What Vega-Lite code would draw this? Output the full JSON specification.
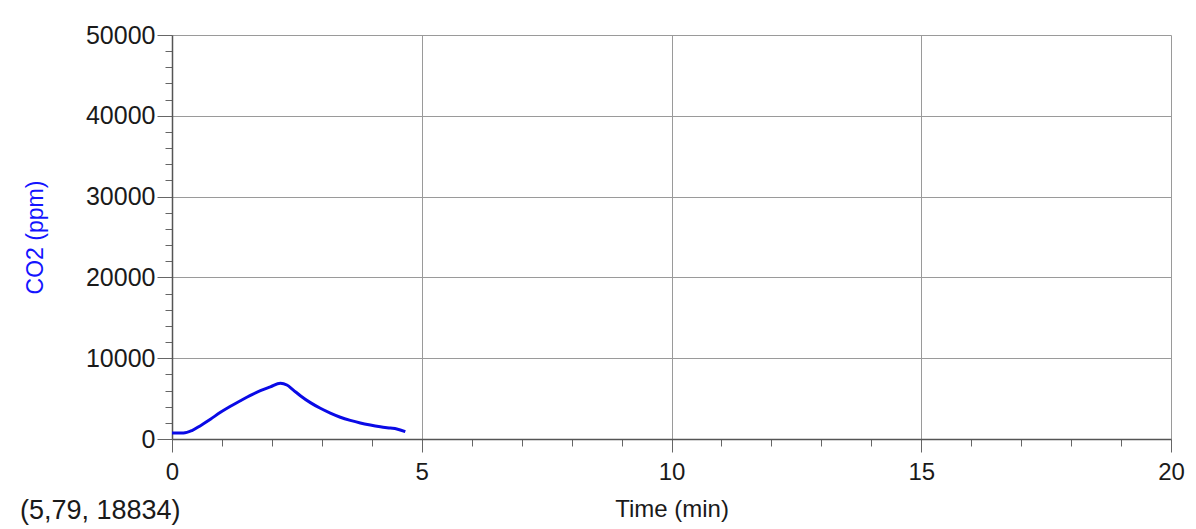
{
  "$schema": "https://vega.github.io/schema/vega-lite/v6.json",
  "width": 999,
  "height": 404,
  "autosize": {"type": "none"},
  "padding": {"left": 172, "top": 35, "right": 25, "bottom": 90},
  "background": "white",
  "title": {
    "text": "(5,79, 18834)",
    "orient": "bottom",
    "anchor": "start",
    "frame": "group",
    "dx": -152,
    "offset": -23,
    "baseline": "top",
    "font": "Liberation Sans",
    "fontSize": 27,
    "fontWeight": "normal",
    "color": "#1a1a1a"
  },
  "config": {
    "view": {"stroke": null},
    "axis": {
      "labelFont": "Liberation Sans",
      "titleFont": "Liberation Sans",
      "labelColor": "#1a1a1a",
      "titleFontWeight": "normal",
      "domainColor": "#555555",
      "tickColor": "#666666",
      "gridColor": "#9a9a9a",
      "domainWidth": 1.5
    }
  },
  "data": {
    "values": [
      {"t": 0.0, "co2": 740},
      {"t": 0.23, "co2": 740},
      {"t": 0.4, "co2": 1050},
      {"t": 0.57, "co2": 1650},
      {"t": 0.77, "co2": 2450},
      {"t": 0.97, "co2": 3300},
      {"t": 1.17, "co2": 4050},
      {"t": 1.37, "co2": 4740},
      {"t": 1.57, "co2": 5400},
      {"t": 1.77, "co2": 5980},
      {"t": 1.97, "co2": 6450},
      {"t": 2.17, "co2": 6890},
      {"t": 2.3, "co2": 6680},
      {"t": 2.43, "co2": 6050},
      {"t": 2.57, "co2": 5360},
      {"t": 2.77, "co2": 4500},
      {"t": 2.97, "co2": 3800},
      {"t": 3.17, "co2": 3200},
      {"t": 3.37, "co2": 2690},
      {"t": 3.57, "co2": 2300},
      {"t": 3.77, "co2": 1980},
      {"t": 3.97, "co2": 1730},
      {"t": 4.17, "co2": 1520},
      {"t": 4.37, "co2": 1350},
      {"t": 4.5, "co2": 1240},
      {"t": 4.67, "co2": 900}
    ]
  },
  "mark": {"type": "line", "color": "#0a0ae6", "strokeWidth": 3, "interpolate": "monotone", "clip": true},
  "encoding": {
    "x": {
      "field": "t",
      "type": "quantitative",
      "scale": {"domain": [0, 20], "nice": false, "zero": false},
      "axis": {
        "title": "Time (min)",
        "titleFontSize": 24,
        "titleColor": "#1a1a1a",
        "titlePadding": 13,
        "values": [0,1,2,3,4,5,6,7,8,9,10,11,12,13,14,15,16,17,18,19,20],
        "labelExpr": "datum.value % 5 === 0 ? datum.label : ''",
        "format": "d",
        "labelFontSize": 24,
        "labelPadding": 8,
        "labelFlush": false,
        "labelOverlap": false,
        "tickSize": {"condition": {"test": "datum.value % 5 === 0", "value": 13}, "value": 7},
        "gridOpacity": {"condition": {"test": "datum.value % 5 === 0", "value": 1}, "value": 0},
        "grid": true
      }
    },
    "y": {
      "field": "co2",
      "type": "quantitative",
      "scale": {"domain": [0, 50000], "nice": false},
      "axis": {
        "title": "CO2 (ppm)",
        "titleFontSize": 23,
        "titleColor": "#1414ff",
        "titlePadding": 38,
        "values": [0,2000,4000,6000,8000,10000,12000,14000,16000,18000,20000,22000,24000,26000,28000,30000,32000,34000,36000,38000,40000,42000,44000,46000,48000,50000],
        "labelExpr": "datum.value % 10000 === 0 ? datum.label : ''",
        "format": "d",
        "labelFontSize": 25,
        "labelPadding": 2,
        "labelOverlap": false,
        "tickSize": {"condition": {"test": "datum.value % 10000 === 0", "value": 15}, "value": 7},
        "gridOpacity": {"condition": {"test": "datum.value % 10000 === 0", "value": 1}, "value": 0},
        "grid": true
      }
    }
  }
}
